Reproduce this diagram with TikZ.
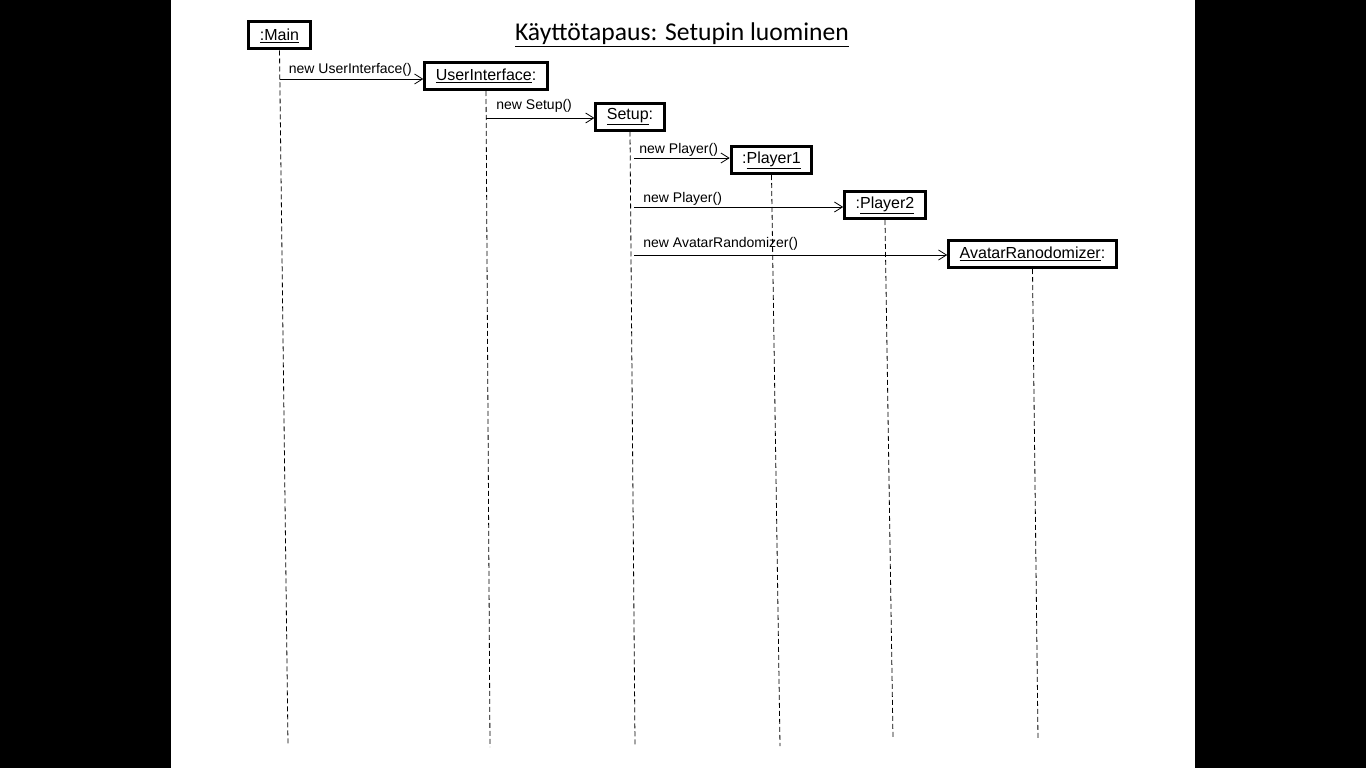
\documentclass[tikz,border=0pt]{standalone}
\usepackage{fontspec}
\setmainfont{Liberation Sans}
\newfontfamily\titlefont{Carlito}
\usetikzlibrary{arrows.meta}
\begin{document}
\begin{tikzpicture}[x=1pt,y=-1pt,>={Straight Barb[length=8pt,width=10pt]},
	obj/.style={draw,line width=3pt,inner xsep=11pt,minimum height=27pt,font=\fontsize{16}{18}\selectfont},
	msg/.style={->,line width=0.8pt},
	lbl/.style={font=\fontsize{14}{16}\selectfont,anchor=south west,inner sep=2pt},
	life/.style={line width=0.8pt,dash pattern=on 5pt off 3pt}]
	\useasboundingbox (0,0) rectangle (1366,768);
	\fill[black] (0,0) rectangle (1366,768);
	\fill[white] (171,0) rectangle (1195,768);
	% title
	\node (title) at (682,35) {\titlefont\fontsize{25.6}{30}\selectfont\underline{K\"aytt\"otapaus: Setupin luominen}};
	% objects
	\node[obj] (main) at (279.5,35.5) {\underline{:Main}};
	\node[obj] (ui) at (486,76) {\underline{UserInterface}:};
	\node[obj] (setup) at (630,116.5) {\underline{Setup}:};
	\node[obj] (pone) at (771.5,160) {:\underline{Player1}};
	\node[obj] (ptwo) at (885,205) {:\underline{Player2}};
	\node[obj] (avatar) at (1032.5,254) {\underline{AvatarRanodomizer}:};
	% lifelines
	\coordinate (mainend) at (288,746);
	\coordinate (uiend) at (490,747);
	\coordinate (setupend) at (635,745);
	\coordinate (poneend) at (780,746);
	\coordinate (ptwoend) at (893,739);
	\coordinate (avatarend) at (1038,739);
	\draw[life] (main.south) -- (mainend);
	\draw[life] (ui.south) -- (uiend);
	\draw[life] (setup.south) -- (setupend);
	\draw[life] (pone.south) -- (poneend);
	\draw[life] (ptwo.south) -- (ptwoend);
	\draw[life] (avatar.south) -- (avatarend);
	% messages
	\draw[msg] ([yshift=-3pt]main.south |- ui.west) -- ([yshift=-3pt]ui.west) node[lbl,pos=0,xshift=7pt] {new UserInterface()};
	\draw[msg] ([yshift=-1.5pt]ui.south |- setup.west) -- ([yshift=-1.5pt]setup.west) node[lbl,pos=0,xshift=8pt,yshift=3pt] {new Setup()};
	\draw[msg] ([xshift=4pt,yshift=2pt]setup.south |- pone.west) -- ([yshift=2pt]pone.west) node[lbl,pos=0,xshift=3pt,yshift=-1pt] {new Player()};
	\draw[msg] ([xshift=4pt,yshift=-2pt]setup.south |- ptwo.west) -- ([yshift=-2pt]ptwo.west) node[lbl,pos=0,xshift=7pt,yshift=-1pt] {new Player()};
	\draw[msg] ([xshift=4pt,yshift=-1pt]setup.south |- avatar.west) -- ([yshift=-1pt]avatar.west) node[lbl,pos=0,xshift=7pt,yshift=2pt] {new AvatarRandomizer()};
\end{tikzpicture}
\end{document}
